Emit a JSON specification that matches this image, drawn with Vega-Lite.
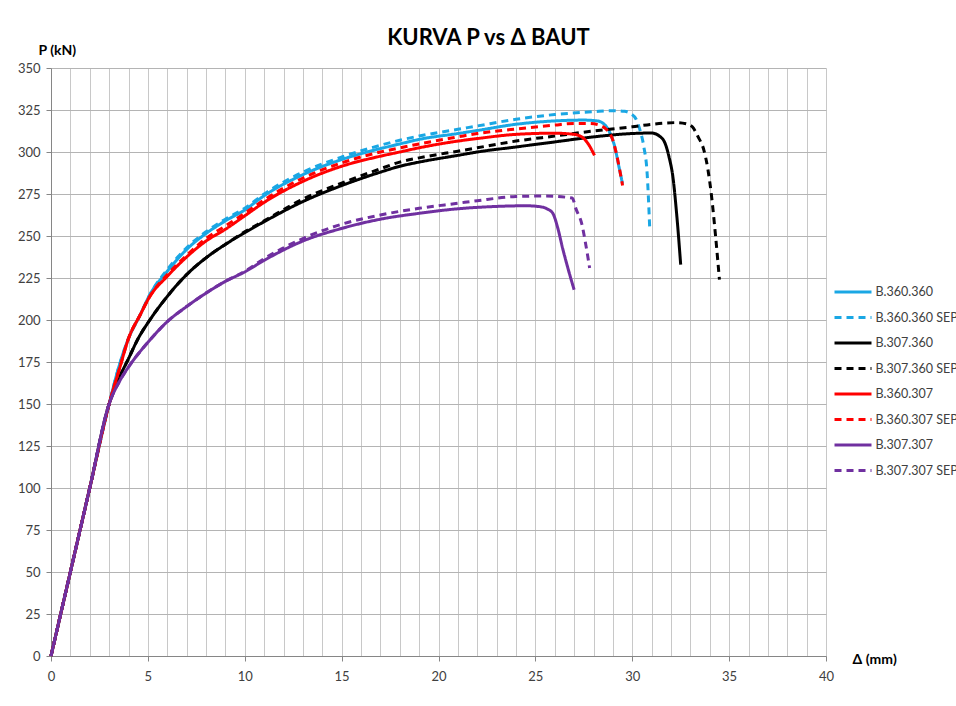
{
"$schema": "https://vega.github.io/schema/vega-lite/v6.json",
"width": 775, "height": 588,
"autosize": {"type": "none"},
"padding": {"left": 51, "top": 68, "right": 130, "bottom": 50},
"background": "white",
"config": {"view": {"stroke": null}, "font": "Lato"},
"title": {"text": "KURVA P vs Δ BAUT", "fontSize": 22, "fontWeight": "bold", "font": "Lato", "color": "#000000", "anchor": "middle", "dx": 50, "dy": 27, "offset": 20},
"datasets": {"d": [
{"s":"B.360.360","x":0,"p":0},{"s":"B.360.360","x":1,"p":50},{"s":"B.360.360","x":2,"p":100},{"s":"B.360.360","x":3,"p":150},{"s":"B.360.360","x":3.5,"p":172},{"s":"B.360.360","x":4,"p":189},{"s":"B.360.360","x":4.6,"p":203},{"s":"B.360.360","x":5.1,"p":215},{"s":"B.360.360","x":6,"p":229},{"s":"B.360.360","x":7,"p":242},{"s":"B.360.360","x":8,"p":251.5},{"s":"B.360.360","x":9,"p":259},{"s":"B.360.360","x":10,"p":265.5},{"s":"B.360.360","x":11,"p":274},{"s":"B.360.360","x":13,"p":286.5},{"s":"B.360.360","x":15,"p":295.5},{"s":"B.360.360","x":17,"p":302},{"s":"B.360.360","x":18,"p":304.8},{"s":"B.360.360","x":19,"p":307.5},{"s":"B.360.360","x":21,"p":311},{"s":"B.360.360","x":22,"p":312.8},{"s":"B.360.360","x":24,"p":316.5},{"s":"B.360.360","x":26,"p":318.5},{"s":"B.360.360","x":27.5,"p":319},{"s":"B.360.360","x":28.2,"p":318.5},{"s":"B.360.360","x":28.6,"p":316},{"s":"B.360.360","x":28.9,"p":310},{"s":"B.360.360","x":29.1,"p":303},{"s":"B.360.360","x":29.3,"p":292},{"s":"B.360.360","x":29.5,"p":281},
{"s":"B.360.360 SEP","x":0,"p":0},{"s":"B.360.360 SEP","x":1,"p":50},{"s":"B.360.360 SEP","x":2,"p":100},{"s":"B.360.360 SEP","x":3,"p":150},{"s":"B.360.360 SEP","x":3.5,"p":172},{"s":"B.360.360 SEP","x":4,"p":189},{"s":"B.360.360 SEP","x":4.6,"p":203},{"s":"B.360.360 SEP","x":5.1,"p":215},{"s":"B.360.360 SEP","x":6,"p":230},{"s":"B.360.360 SEP","x":7,"p":243},{"s":"B.360.360 SEP","x":8,"p":252.5},{"s":"B.360.360 SEP","x":9,"p":260},{"s":"B.360.360 SEP","x":10,"p":266.5},{"s":"B.360.360 SEP","x":11,"p":275},{"s":"B.360.360 SEP","x":13,"p":288},{"s":"B.360.360 SEP","x":15,"p":297},{"s":"B.360.360 SEP","x":17,"p":304},{"s":"B.360.360 SEP","x":18,"p":307},{"s":"B.360.360 SEP","x":19,"p":309.5},{"s":"B.360.360 SEP","x":21,"p":313.5},{"s":"B.360.360 SEP","x":22,"p":315.5},{"s":"B.360.360 SEP","x":24,"p":319.5},{"s":"B.360.360 SEP","x":26,"p":322.3},{"s":"B.360.360 SEP","x":28,"p":324},{"s":"B.360.360 SEP","x":29,"p":324.6},{"s":"B.360.360 SEP","x":29.6,"p":324.2},{"s":"B.360.360 SEP","x":29.9,"p":323},{"s":"B.360.360 SEP","x":30.2,"p":319.5},{"s":"B.360.360 SEP","x":30.4,"p":313},{"s":"B.360.360 SEP","x":30.6,"p":303},{"s":"B.360.360 SEP","x":30.77,"p":287},{"s":"B.360.360 SEP","x":30.9,"p":255},
{"s":"B.307.360","x":0,"p":0},{"s":"B.307.360","x":1,"p":50},{"s":"B.307.360","x":2,"p":100},{"s":"B.307.360","x":3,"p":150},{"s":"B.307.360","x":3.5,"p":165},{"s":"B.307.360","x":4,"p":177},{"s":"B.307.360","x":4.5,"p":189},{"s":"B.307.360","x":5.1,"p":200},{"s":"B.307.360","x":6,"p":214},{"s":"B.307.360","x":7,"p":227},{"s":"B.307.360","x":8,"p":237},{"s":"B.307.360","x":9,"p":245},{"s":"B.307.360","x":10,"p":252},{"s":"B.307.360","x":11,"p":258.5},{"s":"B.307.360","x":13,"p":270.5},{"s":"B.307.360","x":15,"p":280},{"s":"B.307.360","x":17,"p":288},{"s":"B.307.360","x":18,"p":291.5},{"s":"B.307.360","x":19,"p":294},{"s":"B.307.360","x":21,"p":298},{"s":"B.307.360","x":22,"p":300},{"s":"B.307.360","x":24,"p":303},{"s":"B.307.360","x":26,"p":306},{"s":"B.307.360","x":28,"p":309},{"s":"B.307.360","x":30,"p":311},{"s":"B.307.360","x":31,"p":311.3},{"s":"B.307.360","x":31.4,"p":309.5},{"s":"B.307.360","x":31.7,"p":305},{"s":"B.307.360","x":31.9,"p":297},{"s":"B.307.360","x":32.1,"p":285},{"s":"B.307.360","x":32.3,"p":262},{"s":"B.307.360","x":32.5,"p":233},
{"s":"B.307.360 SEP","x":0,"p":0},{"s":"B.307.360 SEP","x":1,"p":50},{"s":"B.307.360 SEP","x":2,"p":100},{"s":"B.307.360 SEP","x":3,"p":150},{"s":"B.307.360 SEP","x":3.5,"p":165},{"s":"B.307.360 SEP","x":4,"p":177},{"s":"B.307.360 SEP","x":4.5,"p":189},{"s":"B.307.360 SEP","x":5.1,"p":200},{"s":"B.307.360 SEP","x":6,"p":214},{"s":"B.307.360 SEP","x":7,"p":227},{"s":"B.307.360 SEP","x":8,"p":237},{"s":"B.307.360 SEP","x":9,"p":245},{"s":"B.307.360 SEP","x":10,"p":252.5},{"s":"B.307.360 SEP","x":11,"p":259},{"s":"B.307.360 SEP","x":13,"p":272},{"s":"B.307.360 SEP","x":15,"p":281.5},{"s":"B.307.360 SEP","x":17,"p":290},{"s":"B.307.360 SEP","x":18,"p":294},{"s":"B.307.360 SEP","x":19,"p":296.5},{"s":"B.307.360 SEP","x":21,"p":300.5},{"s":"B.307.360 SEP","x":22,"p":302.5},{"s":"B.307.360 SEP","x":24,"p":306.5},{"s":"B.307.360 SEP","x":26,"p":309.5},{"s":"B.307.360 SEP","x":28,"p":312.5},{"s":"B.307.360 SEP","x":30,"p":315},{"s":"B.307.360 SEP","x":31,"p":316.5},{"s":"B.307.360 SEP","x":32.3,"p":317.5},{"s":"B.307.360 SEP","x":32.8,"p":316.8},{"s":"B.307.360 SEP","x":33.1,"p":315},{"s":"B.307.360 SEP","x":33.4,"p":309},{"s":"B.307.360 SEP","x":33.7,"p":301},{"s":"B.307.360 SEP","x":33.9,"p":290},{"s":"B.307.360 SEP","x":34.1,"p":273},{"s":"B.307.360 SEP","x":34.3,"p":250},{"s":"B.307.360 SEP","x":34.5,"p":224},
{"s":"B.360.307","x":0,"p":0},{"s":"B.360.307","x":1,"p":50},{"s":"B.360.307","x":2,"p":100},{"s":"B.360.307","x":3,"p":150},{"s":"B.360.307","x":3.56,"p":172},{"s":"B.360.307","x":4,"p":189},{"s":"B.360.307","x":4.6,"p":203},{"s":"B.360.307","x":5.1,"p":214},{"s":"B.360.307","x":6,"p":226},{"s":"B.360.307","x":7,"p":237.5},{"s":"B.360.307","x":8,"p":247},{"s":"B.360.307","x":9,"p":254},{"s":"B.360.307","x":10,"p":262},{"s":"B.360.307","x":11,"p":270},{"s":"B.360.307","x":13,"p":282.5},{"s":"B.360.307","x":15,"p":291.5},{"s":"B.360.307","x":17,"p":297.5},{"s":"B.360.307","x":18,"p":300},{"s":"B.360.307","x":19,"p":302.5},{"s":"B.360.307","x":21,"p":306.5},{"s":"B.360.307","x":22,"p":308},{"s":"B.360.307","x":24,"p":310.5},{"s":"B.360.307","x":26,"p":311.2},{"s":"B.360.307","x":27,"p":310.5},{"s":"B.360.307","x":27.5,"p":308},{"s":"B.360.307","x":27.8,"p":303.5},{"s":"B.360.307","x":28.05,"p":298},
{"s":"B.360.307 SEP","x":0,"p":0},{"s":"B.360.307 SEP","x":1,"p":50},{"s":"B.360.307 SEP","x":2,"p":100},{"s":"B.360.307 SEP","x":3,"p":150},{"s":"B.360.307 SEP","x":3.56,"p":172},{"s":"B.360.307 SEP","x":4,"p":189},{"s":"B.360.307 SEP","x":4.6,"p":203},{"s":"B.360.307 SEP","x":5.1,"p":214},{"s":"B.360.307 SEP","x":6,"p":227},{"s":"B.360.307 SEP","x":7,"p":238.5},{"s":"B.360.307 SEP","x":8,"p":248.5},{"s":"B.360.307 SEP","x":9,"p":256},{"s":"B.360.307 SEP","x":10,"p":263.5},{"s":"B.360.307 SEP","x":11,"p":271.5},{"s":"B.360.307 SEP","x":13,"p":284.5},{"s":"B.360.307 SEP","x":15,"p":293.5},{"s":"B.360.307 SEP","x":17,"p":300},{"s":"B.360.307 SEP","x":18,"p":302.4},{"s":"B.360.307 SEP","x":19,"p":304.8},{"s":"B.360.307 SEP","x":21,"p":309},{"s":"B.360.307 SEP","x":22,"p":311},{"s":"B.360.307 SEP","x":24,"p":313.7},{"s":"B.360.307 SEP","x":26,"p":316},{"s":"B.360.307 SEP","x":27,"p":317},{"s":"B.360.307 SEP","x":27.8,"p":317},{"s":"B.360.307 SEP","x":28.3,"p":316},{"s":"B.360.307 SEP","x":28.7,"p":313},{"s":"B.360.307 SEP","x":29,"p":307},{"s":"B.360.307 SEP","x":29.2,"p":298},{"s":"B.360.307 SEP","x":29.5,"p":280},
{"s":"B.307.307","x":0,"p":0},{"s":"B.307.307","x":1,"p":50},{"s":"B.307.307","x":2,"p":100},{"s":"B.307.307","x":3,"p":150},{"s":"B.307.307","x":3.56,"p":164},{"s":"B.307.307","x":4,"p":172},{"s":"B.307.307","x":5.1,"p":188},{"s":"B.307.307","x":6,"p":199},{"s":"B.307.307","x":7,"p":208},{"s":"B.307.307","x":8,"p":216},{"s":"B.307.307","x":9,"p":223},{"s":"B.307.307","x":10,"p":228.6},{"s":"B.307.307","x":11,"p":235.5},{"s":"B.307.307","x":13,"p":247},{"s":"B.307.307","x":15,"p":254.5},{"s":"B.307.307","x":17,"p":260},{"s":"B.307.307","x":19,"p":263.5},{"s":"B.307.307","x":21,"p":266.2},{"s":"B.307.307","x":23,"p":267.6},{"s":"B.307.307","x":24.5,"p":268},{"s":"B.307.307","x":25.2,"p":267.5},{"s":"B.307.307","x":25.6,"p":266.2},{"s":"B.307.307","x":25.9,"p":263.5},{"s":"B.307.307","x":26.15,"p":255},{"s":"B.307.307","x":26.4,"p":243},{"s":"B.307.307","x":26.7,"p":230},{"s":"B.307.307","x":27,"p":218},
{"s":"B.307.307 SEP","x":0,"p":0},{"s":"B.307.307 SEP","x":1,"p":50},{"s":"B.307.307 SEP","x":2,"p":100},{"s":"B.307.307 SEP","x":3,"p":150},{"s":"B.307.307 SEP","x":3.56,"p":164},{"s":"B.307.307 SEP","x":4,"p":172},{"s":"B.307.307 SEP","x":5.1,"p":188},{"s":"B.307.307 SEP","x":6,"p":199},{"s":"B.307.307 SEP","x":7,"p":208},{"s":"B.307.307 SEP","x":8,"p":216},{"s":"B.307.307 SEP","x":9,"p":223},{"s":"B.307.307 SEP","x":10,"p":229},{"s":"B.307.307 SEP","x":11,"p":236.5},{"s":"B.307.307 SEP","x":13,"p":248.5},{"s":"B.307.307 SEP","x":15,"p":257},{"s":"B.307.307 SEP","x":17,"p":262.5},{"s":"B.307.307 SEP","x":19,"p":266.5},{"s":"B.307.307 SEP","x":21,"p":269.5},{"s":"B.307.307 SEP","x":22,"p":271},{"s":"B.307.307 SEP","x":24,"p":273.5},{"s":"B.307.307 SEP","x":25.5,"p":273.8},{"s":"B.307.307 SEP","x":26.9,"p":272.6},{"s":"B.307.307 SEP","x":27.1,"p":266},{"s":"B.307.307 SEP","x":27.4,"p":257},{"s":"B.307.307 SEP","x":27.6,"p":245},{"s":"B.307.307 SEP","x":27.8,"p":231}
]},
"data": {"name": "d"},
"mark": {"type": "line", "strokeWidth": 3, "interpolate": "monotone"},
"encoding": {
"x": {"field": "x", "type": "quantitative", "scale": {"domain": [0, 40], "nice": false, "zero": true},
 "axis": {"values": [0,1,2,3,4,5,6,7,8,9,10,11,12,13,14,15,16,17,18,19,20,21,22,23,24,25,26,27,28,29,30,31,32,33,34,35,36,37,38,39,40],
  "labelExpr": "datum.value % 5 === 0 ? datum.label : ''", "labelOverlap": false, "labelFlush": false, "labelBound": false,
  "tickOpacity": {"condition": {"test": "datum.value % 5 === 0", "value": 1}, "value": 0},
  "grid": true, "gridColor": "#c8c8c8", "gridWidth": 1, "domainColor": "#868686", "tickColor": "#868686", "tickSize": 5,
  "labelFontSize": 13, "labelColor": "#404040", "labelPadding": 9, "labelFont": "Lato",
  "title": "Δ (mm)", "titleX": 801, "titleY": 3, "titleAlign": "left", "titleBaseline": "middle", "titleFontSize": 14, "titleFontWeight": "bold", "titleColor": "#000000", "titleFont": "Lato"}},
"y": {"field": "p", "type": "quantitative", "scale": {"domain": [0, 350], "nice": false},
 "axis": {"values": [0,25,50,75,100,125,150,175,200,225,250,275,300,325,350],
  "grid": true, "gridColor": "#b4b4b4", "gridWidth": 1, "domainColor": "#868686", "tickColor": "#868686", "tickSize": 5,
  "labelFontSize": 13, "labelColor": "#404040", "labelPadding": 6, "labelFont": "Lato",
  "title": "P (kN)", "titleAngle": 0, "titleX": -13, "titleY": -18, "titleAlign": "left", "titleBaseline": "middle", "titleFontSize": 14, "titleFontWeight": "bold", "titleColor": "#000000", "titleFont": "Lato"}},
"color": {"field": "s", "type": "nominal",
 "scale": {"domain": ["B.360.360","B.360.360 SEP","B.307.360","B.307.360 SEP","B.360.307","B.360.307 SEP","B.307.307","B.307.307 SEP"],
  "range": ["#1AA7E4","#1AA7E4","#000000","#000000","#FF0000","#FF0000","#7030A0","#7030A0"]},
 "legend": {"orient": "none", "legendX": 791, "legendY": 213, "title": null, "symbolType": "M-2,0H2", "symbolSize": 342, "symbolStrokeWidth": 3, "labelFontSize": 12.5, "labelColor": "#404040", "labelFont": "Lato", "labelOffset": 11.5, "rowPadding": 7.5, "labelLimit": 200}},
"strokeDash": {"field": "s", "type": "nominal",
 "scale": {"domain": ["B.360.360","B.360.360 SEP","B.307.360","B.307.360 SEP","B.360.307","B.360.307 SEP","B.307.307","B.307.307 SEP"],
  "range": [[1,0],[7,5],[1,0],[7,5],[1,0],[7,5],[1,0],[7,5]]},
 "legend": {"orient": "none", "legendX": 791, "legendY": 213, "title": null, "symbolType": "M-2,0H2", "symbolSize": 342, "symbolStrokeWidth": 3, "labelFontSize": 12.5, "labelColor": "#404040", "labelFont": "Lato", "labelOffset": 11.5, "rowPadding": 7.5, "labelLimit": 200}}
}
}
